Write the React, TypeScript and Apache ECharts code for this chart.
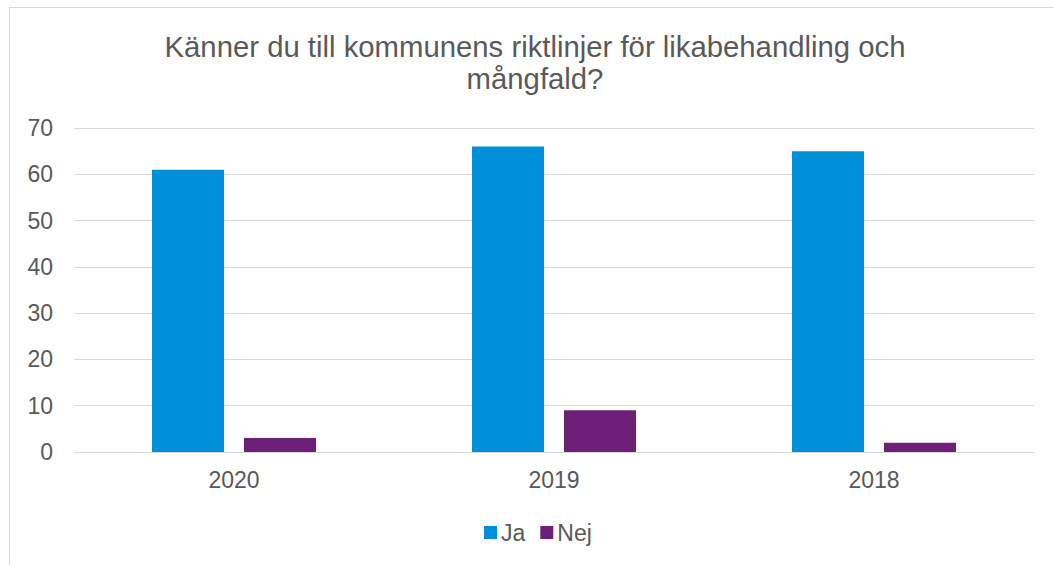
import React, { useEffect, useRef } from "react";
import * as echarts from "echarts";

const titleText = "Känner du till kommunens riktlinjer för likabehandling och\nmångfald?";
const categories = ["2020", "2019", "2018"];
const seriesNames = ["Ja", "Nej"];
const jaValues = [61, 66, 65];
const nejValues = [3, 9, 2];
const yMin = 0;
const yMax = 70;
const yInterval = 10;

const textColor = "#595959";
const gridColor = "#d9d9d9";
const colors = ["#0090D9", "#6E1F78"];
const font = "Arial, 'Liberation Sans', sans-serif";

export default function App() {
  const ref = useRef<HTMLDivElement>(null);
  useEffect(() => {
    if (!ref.current) return;
    const chart = echarts.init(ref.current, null, { renderer: "svg" });
    chart.setOption({
      animation: false,
      textStyle: { fontFamily: font },
      title: {
        text: titleText,
        left: 520,
        top: 17,
        textAlign: "center",
        textStyle: {
          fontFamily: font,
          fontSize: 29.3,
          fontWeight: "normal",
          color: textColor,
          lineHeight: 32,
        },
      },
      legend: {
        data: seriesNames,
        left: 469,
        top: 508,
        itemWidth: 13,
        itemHeight: 13,
        itemGap: 15,
        icon: "rect",
        textStyle: { fontFamily: font, fontSize: 23, color: textColor, padding: [0, 0, 0, -1] },
      },
      grid: { left: 64, right: 20, top: 120, bottom: 113, containLabel: false },
      xAxis: {
        type: "category",
        data: categories,
        axisLine: { lineStyle: { color: gridColor, width: 1 } },
        axisTick: { show: false },
        axisLabel: { fontFamily: font, fontSize: 23, color: textColor, margin: 16 },
      },
      yAxis: {
        type: "value",
        min: yMin,
        max: yMax,
        interval: yInterval,
        axisLine: { show: false },
        axisTick: { show: false },
        splitLine: { lineStyle: { color: gridColor, width: 1 } },
        axisLabel: { fontFamily: font, fontSize: 23, color: textColor, margin: 21 },
      },
      series: [
        {
          name: seriesNames[0],
          type: "bar",
          data: jaValues,
          barWidth: 72,
          barGap: "27.78%",
          itemStyle: { color: colors[0] },
        },
        {
          name: seriesNames[1],
          type: "bar",
          data: nejValues,
          barWidth: 72,
          barGap: "27.78%",
          itemStyle: { color: colors[1] },
        },
      ],
    });
    return () => chart.dispose();
  }, []);
  return (
    <div
      style={{
        position: "absolute",
        left: 9,
        top: 7,
        width: 1045,
        height: 558,
        boxSizing: "border-box",
        borderLeft: "1px solid #d9d9d9",
        borderTop: "1px solid #d9d9d9",
        background: "#fff",
      }}
    >
      <div ref={ref} style={{ width: 1044, height: 557 }} />
    </div>
  );
}
